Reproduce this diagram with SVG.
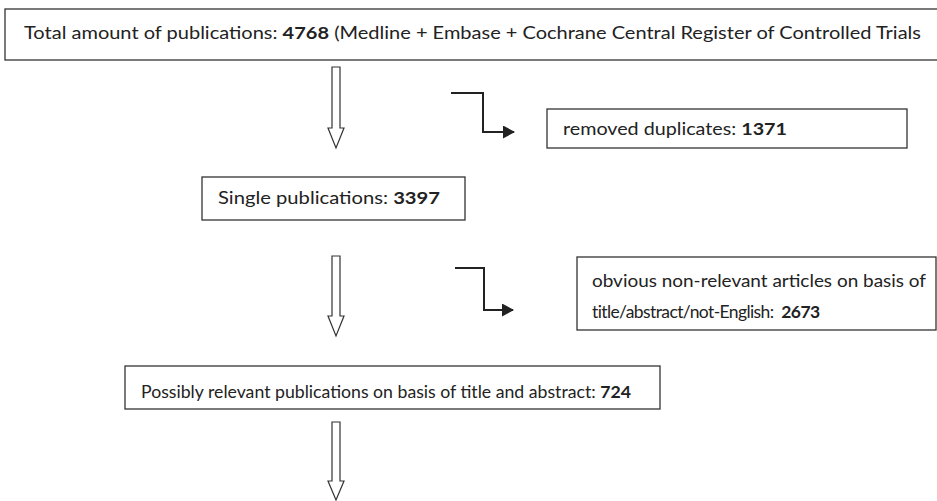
<svg xmlns="http://www.w3.org/2000/svg" width="937" height="501" viewBox="0 0 937 501">
<style>
.box{fill:#fff;stroke:#333;stroke-width:1.3}
.t{font-family:Lato,"Open Sans","Liberation Sans",sans-serif;font-size:17.5px;fill:#222}
.b{font-weight:bold}
.hollow{fill:#fff;stroke:#333;stroke-width:1.2}
.elbow{fill:none;stroke:#222;stroke-width:2}
</style>
<defs>
<marker id="ah" markerWidth="13" markerHeight="13" refX="11" refY="6.5" orient="auto" markerUnits="userSpaceOnUse">
<path d="M0,0 L12,6.5 L0,13 Z" fill="#222"/>
</marker>
</defs>
<rect width="937" height="501" fill="#fff"/>
<g id="n-total">
<rect class="box" x="5" y="9" width="940" height="51"/>
<text class="t" x="24" y="39" textLength="897" lengthAdjust="spacingAndGlyphs">Total amount of publications: <tspan class="b">4768</tspan> (Medline + Embase + Cochrane Central Register of Controlled Trials</text>
</g>
<g id="n-dup">
<rect class="box" x="547" y="109" width="360" height="39"/>
<text class="t" x="563" y="135" textLength="224" lengthAdjust="spacingAndGlyphs">removed duplicates: <tspan class="b">1371</tspan></text>
</g>
<g id="n-single">
<rect class="box" x="202" y="177" width="263" height="43"/>
<text class="t" x="218" y="204" textLength="222" lengthAdjust="spacingAndGlyphs">Single publications: <tspan class="b">3397</tspan></text>
</g>
<g id="n-nonrel">
<rect class="box" x="577" y="257" width="359" height="73"/>
<text class="t" x="592" y="287" textLength="334" lengthAdjust="spacingAndGlyphs">obvious non-relevant articles on basis of</text>
<text class="t" x="592" y="318" xml:space="preserve" letter-spacing="-0.6">title/abstract/not-English:  <tspan class="b">2673</tspan></text>
</g>
<g id="n-possible">
<rect class="box" x="125" y="366" width="535" height="43"/>
<text class="t" x="141" y="398" textLength="490" lengthAdjust="spacingAndGlyphs">Possibly relevant publications on basis of title and abstract: <tspan class="b">724</tspan></text>
</g>
<g id="connectors">
<polygon class="hollow" points="332,67 340,67 340,128 344,128 336,148 328,128 332,128"/>
<polygon class="hollow" points="332,256 340,256 340,316 344,316 336,336 328,316 332,316"/>
<polygon class="hollow" points="332,422 340,422 340,481 344,481 336,500 328,481 332,481"/>
<polyline class="elbow" points="451,93 483,93 483,132 514,132" marker-end="url(#ah)"/>
<polyline class="elbow" points="455,268 484,268 484,310 513,310" marker-end="url(#ah)"/>
</g>
</svg>
